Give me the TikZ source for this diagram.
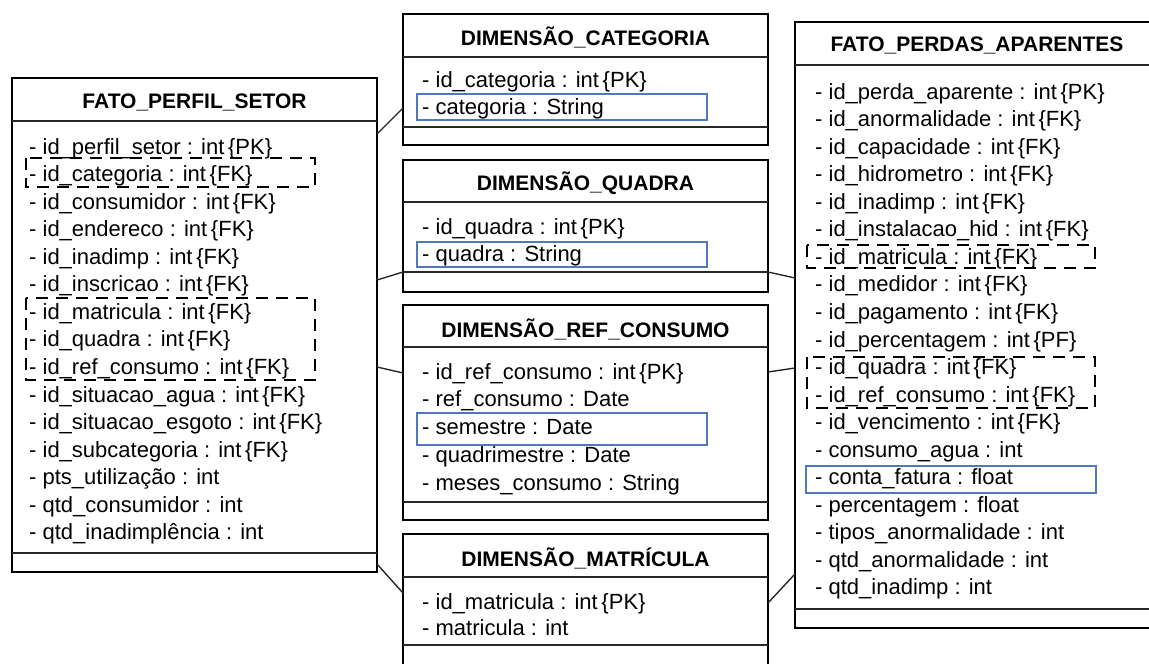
\documentclass[tikz,border=0pt]{standalone}
\usepackage{fontspec}
\setmainfont{Liberation Sans}
\usepackage{tikz}
\usetikzlibrary{calc}
\definecolor{azul}{RGB}{80,120,190}
\definecolor{linha}{RGB}{40,40,40}
\tikzset{
  tabela/.style={line width=2.8pt},
  divisa/.style={line width=1.6pt, draw=linha},
  titulo/.style={font=\bfseries\fontsize{21}{24}\selectfont, inner sep=0pt},
  campo/.style={anchor=west, font=\fontsize{22}{24}\selectfont, inner sep=0pt, text height=18pt, text depth=4pt},
  chave/.style={line width=2pt, dash pattern=on 12pt off 8pt},
  realce/.style={draw=azul, line width=1.4pt},
  ligacao/.style={line width=1.4pt, draw=linha}
}

\begin{document}
\begin{tikzpicture}[x=1pt,y=-1pt]
        \useasboundingbox (0,0) rectangle (1149,664);
        \clip (0,0) rectangle (1149,664);
        % Fato perfil setor
        \draw[tabela] (12,78) rectangle (377,572);
        \draw[divisa] (12,121) -- (377,121);
        \draw[divisa] (12,553) -- (377,553);
        \node[titulo] (ps) at (194.5,102) {FATO\_PERFIL\_SETOR};
        \node[campo] (ps1) at (29,147.0) {- id\_perfil\_setor : int\,\{PK\}};
        \node[campo] (ps2) at (29,174.6) {- id\_categoria : int\,\{FK\}};
        \node[campo] (ps3) at (29,202.1) {- id\_consumidor : int\,\{FK\}};
        \node[campo] (ps4) at (29,229.7) {- id\_endereco : int\,\{FK\}};
        \node[campo] (ps5) at (29,257.2) {- id\_inadimp : int\,\{FK\}};
        \node[campo] (ps6) at (29,284.8) {- id\_inscricao : int\,\{FK\}};
        \node[campo] (ps7) at (29,312.3) {- id\_matricula : int\,\{FK\}};
        \node[campo] (ps8) at (29,339.9) {- id\_quadra : int\,\{FK\}};
        \node[campo] (ps9) at (29,367.4) {- id\_ref\_consumo : int\,\{FK\}};
        \node[campo] (ps10) at (29,395.0) {- id\_situacao\_agua : int\,\{FK\}};
        \node[campo] (ps11) at (29,422.5) {- id\_situacao\_esgoto : int\,\{FK\}};
        \node[campo] (ps12) at (29,450.1) {- id\_subcategoria : int\,\{FK\}};
        \node[campo] (ps13) at (29,477.6) {- pts\_utilização : int};
        \node[campo] (ps14) at (29,505.2) {- qtd\_consumidor : int};
        \node[campo] (ps15) at (29,532.7) {- qtd\_inadimplência : int};
        \draw[chave] (26,158) rectangle (315,187);
        \draw[chave] (26,298) rectangle (315,380);
        % Dimensao categoria
        \draw[tabela] (403,14) rectangle (768,145);
        \draw[divisa] (403,57) -- (768,57);
        \draw[divisa] (403,127) -- (768,127);
        \node[titulo] (cat) at (585.5,37) {DIMENSÃO\_CATEGORIA};
        \node[campo] (cat1) at (422,80) {- id\_categoria : int\,\{PK\}};
        \node[campo] (cat2) at (422,107) {- categoria : String};
        \draw[realce] (417,94) rectangle (707,120);
        % Dimensao quadra
        \draw[tabela] (403,160) rectangle (768,292);
        \draw[divisa] (403,202) -- (768,202);
        \draw[divisa] (403,272) -- (768,272);
        \node[titulo] (qua) at (585.5,183) {DIMENSÃO\_QUADRA};
        \node[campo] (qua1) at (422,227) {- id\_quadra : int\,\{PK\}};
        \node[campo] (qua2) at (422,254) {- quadra : String};
        \draw[realce] (417,242) rectangle (707,267);
        % Dimensao ref consumo
        \draw[tabela] (403,305) rectangle (768,520);
        \draw[divisa] (403,347) -- (768,347);
        \draw[divisa] (403,502) -- (768,502);
        \node[titulo] (ref) at (585.5,329) {DIMENSÃO\_REF\_CONSUMO};
        \node[campo] (ref1) at (422,372) {- id\_ref\_consumo : int\,\{PK\}};
        \node[campo] (ref2) at (422,399) {- ref\_consumo : Date};
        \node[campo] (ref3) at (422,427) {- semestre : Date};
        \node[campo] (ref4) at (422,455) {- quadrimestre : Date};
        \node[campo] (ref5) at (422,483) {- meses\_consumo : String};
        \draw[realce] (417,413) rectangle (707,445);
        % Dimensao matricula
        \draw[tabela] (403,534) rectangle (768,700);
        \draw[divisa] (403,577) -- (768,577);
        \draw[divisa] (403,645) -- (768,645);
        \node[titulo] (mat) at (585.5,558) {DIMENSÃO\_MATRÍCULA};
        \node[campo] (mat1) at (422,602) {- id\_matricula : int\,\{PK\}};
        \node[campo] (mat2) at (422,628) {- matricula : int};
        % Fato perdas aparentes
        \draw[tabela] (795,22) rectangle (1170,628);
        \draw[divisa] (795,65) -- (1170,65);
        \draw[divisa] (795,609) -- (1170,609);
        \node[titulo] (pa) at (977,45) {FATO\_PERDAS\_APARENTES};
        \node[campo] (pa1) at (815,92.0) {- id\_perda\_aparente : int\,\{PK\}};
        \node[campo] (pa2) at (815,119.6) {- id\_anormalidade : int\,\{FK\}};
        \node[campo] (pa3) at (815,147.1) {- id\_capacidade : int\,\{FK\}};
        \node[campo] (pa4) at (815,174.7) {- id\_hidrometro : int\,\{FK\}};
        \node[campo] (pa5) at (815,202.2) {- id\_inadimp : int\,\{FK\}};
        \node[campo] (pa6) at (815,229.8) {- id\_instalacao\_hid : int\,\{FK\}};
        \node[campo] (pa7) at (815,257.3) {- id\_matricula : int\,\{FK\}};
        \node[campo] (pa8) at (815,284.9) {- id\_medidor : int\,\{FK\}};
        \node[campo] (pa9) at (815,312.4) {- id\_pagamento : int\,\{FK\}};
        \node[campo] (pa10) at (815,340.0) {- id\_percentagem : int\,\{PF\}};
        \node[campo] (pa11) at (815,367.5) {- id\_quadra : int\,\{FK\}};
        \node[campo] (pa12) at (815,395.1) {- id\_ref\_consumo : int\,\{FK\}};
        \node[campo] (pa13) at (815,422.6) {- id\_vencimento : int\,\{FK\}};
        \node[campo] (pa14) at (815,450.2) {- consumo\_agua : int};
        \node[campo] (pa15) at (815,477.7) {- conta\_fatura : float};
        \node[campo] (pa16) at (815,505.3) {- percentagem : float};
        \node[campo] (pa17) at (815,532.8) {- tipos\_anormalidade : int};
        \node[campo] (pa18) at (815,560.4) {- qtd\_anormalidade : int};
        \node[campo] (pa19) at (815,587.9) {- qtd\_inadimp : int};
        \draw[chave] (807,245) rectangle (1095,268);
        \draw[chave] (807,357) rectangle (1095,408);
        \draw[realce] (806,466) rectangle (1096,493);
        % Ligacoes
        \coordinate (ps-cat) at (377,134);
        \coordinate (ps-qua) at (377,280);
        \coordinate (ps-ref) at (377,367);
        \coordinate (ps-mat) at (377,564);
        \coordinate (cat-e) at (403,108);
        \coordinate (qua-e) at (403,272);
        \coordinate (ref-e) at (403,373);
        \coordinate (mat-e) at (403,593);
        \coordinate (qua-d) at (768,272);
        \coordinate (ref-d) at (768,372);
        \coordinate (mat-d) at (768,603);
        \coordinate (pa-qua) at (795,278);
        \coordinate (pa-ref) at (795,368);
        \coordinate (pa-mat) at (795,574);
        \draw[ligacao] (ps-cat) -- (cat-e);
        \draw[ligacao] (ps-qua) -- (qua-e);
        \draw[ligacao] (ps-ref) -- (ref-e);
        \draw[ligacao] (ps-mat) -- (mat-e);
        \draw[ligacao] (qua-d) -- (pa-qua);
        \draw[ligacao] (ref-d) -- (pa-ref);
        \draw[ligacao] (mat-d) -- (pa-mat);
      \end{tikzpicture}
\end{document}
